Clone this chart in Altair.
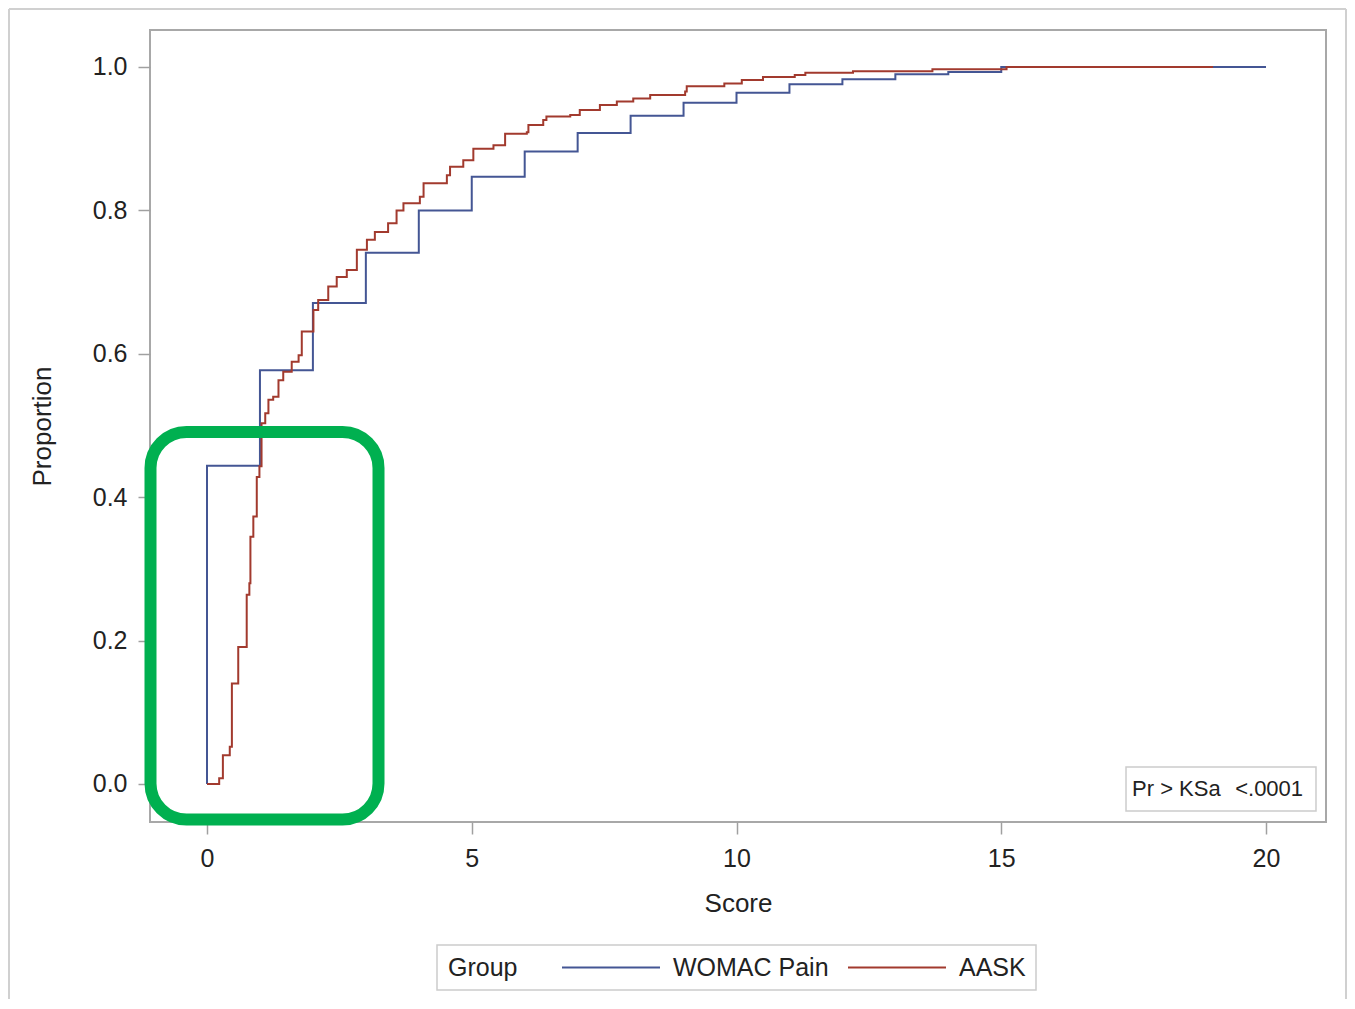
import altair as alt
import pandas as pd

# ---------------- data ----------------
groups = ["WOMAC Pain", "AASK"]
colors = ["#445694", "#A23A2E"]

womac_score = [0, 0, 1, 2, 3, 4, 5, 6, 7, 8, 9, 10, 11, 12, 13, 14, 15, 20]
womac_prop = [0.0, 0.444, 0.577, 0.671, 0.741, 0.800, 0.847, 0.882, 0.908, 0.932,
              0.950, 0.964, 0.976, 0.983, 0.990, 0.993, 1.0, 1.0]

aask_score = [0.00, 0.23, 0.30, 0.43, 0.47, 0.59, 0.75, 0.80, 0.82, 0.875, 0.94, 0.99,
              1.03, 1.10, 1.16, 1.25, 1.35, 1.44, 1.60, 1.73, 1.79, 2.01, 2.10,
              2.29, 2.45, 2.64, 2.83, 3.02, 3.17, 3.42, 3.58, 3.71, 4.02, 4.09,
              4.53, 4.59, 4.84, 5.03, 5.41, 5.63, 6.04, 6.07, 6.35, 6.41, 6.86,
              7.04, 7.42, 7.74, 8.05, 8.37, 9.03, 9.06, 9.77, 10.1, 10.5, 11.1,
              11.3, 12.2, 13.7, 15.1, 19.0]
aask_prop = [0.000, 0.008, 0.040, 0.052, 0.140, 0.191, 0.264, 0.280, 0.345, 0.373, 0.428, 0.443,
             0.503, 0.517, 0.536, 0.540, 0.563, 0.575, 0.589, 0.598, 0.631, 0.661, 0.675,
             0.694, 0.707, 0.717, 0.745, 0.759, 0.770, 0.782, 0.800, 0.810, 0.819, 0.838,
             0.849, 0.861, 0.870, 0.886, 0.891, 0.907, 0.909, 0.919, 0.926, 0.931, 0.933,
             0.940, 0.947, 0.952, 0.956, 0.961, 0.966, 0.973, 0.977, 0.982, 0.986, 0.989,
             0.992, 0.994, 0.997, 1.000, 1.000]

x_ticks = [0, 5, 10, 15, 20]
y_ticks = [0.0, 0.2, 0.4, 0.6, 0.8, 1.0]

legend_title = "Group"
ks_label = "Pr > KSa"
ks_value = "<.0001"

# ---------------- layout constants ----------------
X_DOMAIN = [-1.0765, 21.133]
Y_DOMAIN = [-0.053, 1.0516]
W, H = 1176, 792
PAD = {"left": 142, "top": 22, "right": 21, "bottom": 177}
FONT = "Liberation Sans"
TXT = "#222222"

womac_df = pd.DataFrame({"Score": womac_score, "Proportion": womac_prop,
                         "Group": groups[0], "i": list(range(len(womac_score)))})
aask_df = pd.DataFrame({"Score": aask_score, "Proportion": aask_prop,
                        "Group": groups[1], "i": list(range(len(aask_score)))})

xs = alt.Scale(domain=X_DOMAIN, nice=False, zero=False)
ys = alt.Scale(domain=Y_DOMAIN, nice=False, zero=False)

x_axis = alt.Axis(values=x_ticks, title="Score", grid=False, domain=False,
                  tickSize=12, tickColor="#a0a0a0", tickWidth=1.5,
                  labelFontSize=25, labelPadding=12, labelColor=TXT,
                  titleFontSize=26, titleFontWeight="normal", titleColor=TXT,
                  titlePadding=19)
y_axis = alt.Axis(values=y_ticks, format=".1f", title="Proportion", grid=False,
                  domain=False, tickSize=12, tickColor="#a0a0a0", tickWidth=1.5,
                  labelFontSize=25, labelPadding=11, labelColor=TXT,
                  titleFontSize=26, titleFontWeight="normal", titleColor=TXT,
                  titlePadding=37)


def X(f):
    return alt.X(f, scale=xs, axis=x_axis)


def Y(f):
    return alt.Y(f, scale=ys, axis=y_axis)


color = alt.Color("Group:N", scale=alt.Scale(domain=groups, range=colors), legend=None)


def step(df):
    return alt.Chart(df).mark_line(interpolate="step-after", strokeWidth=2).encode(
        x=X("Score:Q"), y=Y("Proportion:Q"), color=color,
        order=alt.Order("i:Q"))


blue = step(womac_df)
red = step(aask_df)

# KS inset box
ks_box_df = pd.DataFrame({"x1": [17.356], "x2": [20.944], "y1": [-0.0377], "y2": [0.0237]})
ks_box = alt.Chart(ks_box_df).mark_rect(fill="#ffffff", stroke="#cccccc", strokeWidth=1.5).encode(
    x=X("x1:Q"), x2="x2:Q", y=Y("y1:Q"), y2="y2:Q")
ks_txt_df = pd.DataFrame({"x": [17.47, 20.70], "y": [-0.007, -0.007],
                          "t": [ks_label, ks_value]})
ks_left = alt.Chart(ks_txt_df.iloc[[0]]).mark_text(
    align="left", baseline="middle", fontSize=22, color=TXT, font=FONT).encode(
    x=X("x:Q"), y=Y("y:Q"), text="t:N")
ks_right = alt.Chart(ks_txt_df.iloc[[1]]).mark_text(
    align="right", baseline="middle", fontSize=22, color=TXT, font=FONT).encode(
    x=X("x:Q"), y=Y("y:Q"), text="t:N")

# green highlight box
hl_df = pd.DataFrame({"x1": [-1.067], "x2": [3.239], "y1": [-0.0495], "y2": [0.491]})
highlight = alt.Chart(hl_df).mark_rect(fill="#ffffff", fillOpacity=0, stroke="#00B050",
                                        strokeWidth=12, cornerRadius=36, clip=False).encode(
    x=X("x1:Q"), x2="x2:Q", y=Y("y1:Q"), y2="y2:Q")

# outer light-grey frame of the figure
one = pd.DataFrame({"a": [0]})
fr = dict(color="#d0d0d0", strokeWidth=2)
frame_left = alt.Chart(one).mark_rule(**fr).encode(
    x=alt.value(-141), y=alt.value(-21), y2=alt.value(H + PAD["bottom"]))
frame_top = alt.Chart(one).mark_rule(**fr).encode(
    x=alt.value(-141), x2=alt.value(W + PAD["right"] - 1), y=alt.value(-21))
frame_right = alt.Chart(one).mark_rule(**fr).encode(
    x=alt.value(W + PAD["right"] - 1), y=alt.value(-21), y2=alt.value(H + PAD["bottom"]))

# legend (drawn as marks, below the plot)
LEG_X, LEG_Y, LEG_W, LEG_H = 287, 915, 599, 45
LEG_MID = LEG_Y + LEG_H / 2
leg_box = alt.Chart(one).mark_rect(fill="#ffffff", stroke="#cccccc", strokeWidth=1.5).encode(
    x=alt.value(LEG_X), x2=alt.value(LEG_X + LEG_W),
    y=alt.value(LEG_Y), y2=alt.value(LEG_Y + LEG_H))
leg_title = alt.Chart(one).mark_text(
    align="left", baseline="middle", fontSize=25, color=TXT, font=FONT,
    text=legend_title).encode(x=alt.value(LEG_X + 11), y=alt.value(LEG_MID))
entry_x = [412, 698]      # line-sample start of each entry
legend_layers = []
for g, c, ex in zip(groups, colors, entry_x):
    legend_layers.append(alt.Chart(one).mark_rule(color=c, strokeWidth=2).encode(
        x=alt.value(ex), x2=alt.value(ex + 98), y=alt.value(LEG_MID)))
    legend_layers.append(alt.Chart(one).mark_text(
        align="left", baseline="middle", fontSize=25, color=TXT, font=FONT,
        text=g).encode(x=alt.value(ex + 111), y=alt.value(LEG_MID)))

chart = alt.layer(frame_left, frame_top, frame_right, blue, red, ks_box, ks_left, ks_right,
                  highlight, leg_box, leg_title, *legend_layers).properties(
    width=W, height=H, autosize=alt.AutoSizeParams(type="none"), padding=PAD,
    background="#ffffff"
).configure_view(stroke="#a8a8a8", strokeWidth=2).configure_axis(
    labelFont=FONT, titleFont=FONT)

chart.save("out.html", embed_options={"renderer": "svg", "actions": False})
